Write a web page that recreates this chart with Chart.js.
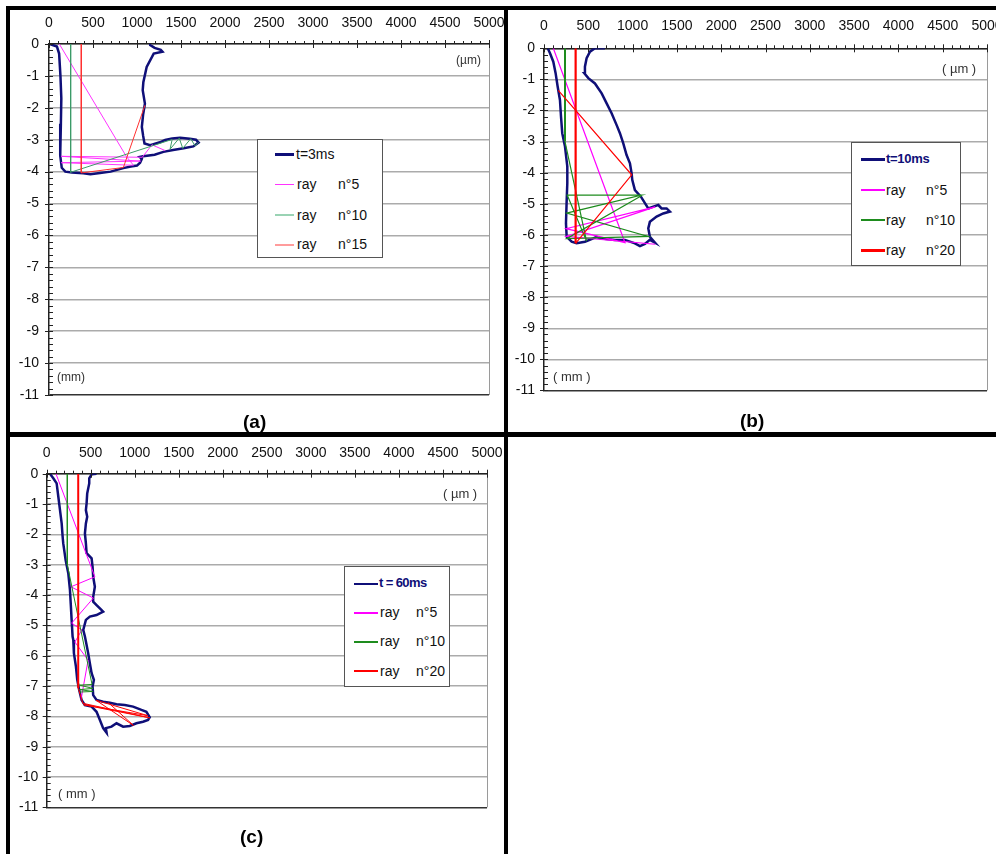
<!DOCTYPE html>
<html>
<head>
<meta charset="utf-8">
<script src="https://cdn.jsdelivr.net/npm/chart.js@4.4.1/dist/chart.umd.min.js"></script>
<style>
html, body { margin: 0; padding: 0; background: #fff; }
#page { position: relative; width: 996px; height: 854px; overflow: hidden; background: #fff;
        font-family: "Liberation Sans", Arial, sans-serif; }
.bar { position: absolute; background: #000; z-index: 5; }
.panel { position: absolute; }
.panel canvas { display: block; }
.unit { position: absolute; font-size: 12px; line-height: 12px; color: #333; white-space: pre; z-index: 3; }
.cap { position: absolute; font-size: 19px; line-height: 19px; font-weight: bold; color: #000; z-index: 3; }
.legend { position: absolute; box-sizing: border-box; border: 1px solid #555; background: #fff; z-index: 4; }
.legend span { position: absolute; font-size: 14px; line-height: 16px; color: #111; white-space: pre; }
</style>
</head>
<body>
<div id="page">
  <div class="panel" style="left:10px;top:10px"><canvas id="chartA" width="495" height="420"></canvas></div>
  <div class="panel" style="left:509px;top:10px"><canvas id="chartB" width="500" height="422"></canvas></div>
  <div class="panel" style="left:10px;top:437px"><canvas id="chartC" width="494" height="417"></canvas></div>

  <div class="bar" style="left:6px;top:6px;width:990px;height:4px"></div>
  <div class="bar" style="left:6px;top:6px;width:4px;height:848px"></div>
  <div class="bar" style="left:504px;top:6px;width:4px;height:848px"></div>
  <div class="bar" style="left:6px;top:432px;width:990px;height:5px"></div>

  <div class="unit" style="left:456px;top:54px">(µm)</div>
  <div class="unit" style="left:57px;top:371px">(mm)</div>
  <div class="unit" style="left:942px;top:63px;font-size:13px">( µm )</div>
  <div class="unit" style="left:553px;top:371px;font-size:13px">( mm )</div>
  <div class="unit" style="left:443px;top:488px;font-size:13px">( µm )</div>
  <div class="unit" style="left:58px;top:788px;font-size:13px">( mm )</div>

  <div class="cap" style="left:243px;top:412px">(a)</div>
  <div class="cap" style="left:740px;top:411px">(b)</div>
  <div class="cap" style="left:240px;top:827px">(c)</div>
</div>
<script>
const xTickValues = [0, 500, 1000, 1500, 2000, 2500, 3000, 3500, 4000, 4500, 5000];
const yTickValues = [0, -1, -2, -3, -4, -5, -6, -7, -8, -9, -10, -11];

// (a) t = 3 ms  -- x in µm, y in mm
const profileA = [[10,0],[90,-0.08],[115,-0.3],[130,-1.0],[140,-1.7],[135,-2.5],[125,-3.0],[130,-3.5],[145,-3.88],[185,-4.0],[260,-4.03],[390,-4.05],[470,-4.08],[580,-4.04],[700,-4.0],[845,-3.89],[930,-3.84],[1000,-3.81],[1035,-3.72],[1055,-3.6],[1030,-3.54],[1070,-3.52],[1200,-3.47],[1300,-3.38],[1410,-3.32],[1530,-3.27],[1640,-3.21],[1700,-3.09],[1670,-3.0],[1600,-2.97],[1490,-2.94],[1400,-2.96],[1320,-3.01],[1260,-3.08],[1150,-3.17],[1085,-3.12],[1070,-2.88],[1055,-2.6],[1070,-2.2],[1090,-1.87],[1065,-1.45],[1072,-1.2],[1110,-0.72],[1190,-0.3],[1290,-0.24],[1270,-0.18],[1200,-0.12],[1150,-0.03],[1150,0]];
const ray5A = [[117,0],[880,-3.53],[960,-3.8],[140,-3.72],[1040,-3.67],[140,-3.52],[1060,-3.55],[1170,-3.16],[1320,-3.34]];
const ray10A = [[246,0],[246,-4.02],[1400,-2.99],[1375,-3.3],[1480,-2.95],[1520,-3.27],[1610,-2.97],[1660,-3.19],[1700,-3.08]];
const ray15A = [[367,0],[367,-4.04],[845,-3.87],[1090,-1.92]];

// (b) t = 10 ms
const profileB = [[42,0],[68,-0.16],[105,-0.43],[131,-0.8],[154,-1.23],[180,-1.66],[192,-2.2],[206,-2.73],[237,-3.16],[263,-3.8],[263,-4.34],[256,-4.88],[248,-5.63],[256,-6.06],[312,-6.22],[368,-6.27],[462,-6.22],[556,-6.11],[594,-6.06],[632,-6.11],[801,-6.16],[914,-6.16],[1026,-6.27],[1083,-6.36],[1139,-6.29],[1195,-6.16],[1252,-6.25],[1195,-6.06],[1177,-5.79],[1195,-5.58],[1271,-5.41],[1346,-5.31],[1421,-5.25],[1384,-5.15],[1327,-5.15],[1290,-5.04],[1233,-5.09],[1177,-5.15],[1139,-4.98],[1094,-4.77],[1026,-4.56],[996,-4.23],[989,-4.02],[970,-3.7],[932,-3.43],[894,-3.05],[857,-2.73],[820,-2.47],[763,-2.09],[707,-1.77],[651,-1.45],[575,-1.13],[500,-0.96],[455,-0.8],[462,-0.59],[481,-0.32],[519,-0.11],[575,0],[688,0]];
const ray5B = [[105,0],[914,-6.25],[250,-5.8],[1255,-5.1],[256,-6.05],[1255,-6.3]];
const ray10B = [[237,0],[237,-3.0],[480,-6.2],[262,-4.72],[1100,-4.72],[256,-5.3],[1175,-6.05],[256,-6.12],[1100,-4.74]];
const ray20B = [[357,0],[357,-6.27],[990,-4.07],[161,-1.35]];

// (c) t = 60 ms
const profileC = [[37,0],[75,-0.15],[113,-0.32],[132,-0.76],[151,-1.2],[170,-1.64],[181,-2.08],[188,-2.3],[215,-2.85],[245,-3.28],[264,-3.83],[275,-4.39],[283,-4.82],[294,-5.37],[302,-5.48],[309,-5.92],[332,-6.36],[347,-6.8],[369,-7.13],[396,-7.46],[434,-7.63],[510,-7.68],[566,-7.85],[604,-8.12],[641,-8.39],[680,-8.54],[672,-8.39],[736,-8.34],[793,-8.23],[868,-8.34],[943,-8.32],[1019,-8.23],[1094,-8.18],[1151,-8.12],[1170,-8.03],[1132,-7.85],[1076,-7.79],[981,-7.68],[887,-7.63],[793,-7.6],[717,-7.55],[641,-7.52],[566,-7.46],[528,-7.3],[521,-7.02],[536,-6.8],[510,-6.58],[490,-6.25],[471,-5.92],[453,-5.65],[434,-5.37],[415,-5.15],[445,-4.82],[490,-4.71],[566,-4.66],[641,-4.55],[604,-4.44],[566,-4.33],[528,-4.22],[528,-4.06],[547,-3.73],[528,-3.4],[521,-3.07],[510,-2.79],[453,-2.62],[445,-2.3],[434,-1.97],[445,-1.64],[460,-1.42],[445,-1.2],[453,-0.98],[460,-0.65],[483,-0.32],[483,-0.15],[510,-0.02],[566,0]];
const ray5C = [[105,0],[547,-3.4],[275,-3.73],[530,-4.1],[283,-4.93],[400,-5.15],[320,-5.55],[470,-6.15],[390,-7.45]];
const ray10C = [[234,0],[234,-3.0],[515,-6.95],[370,-6.97],[525,-7.08],[372,-7.12],[527,-7.18],[375,-7.2]];
const ray20C = [[358,0],[358,-7.07],[410,-7.57],[1170,-8.05],[420,-7.62],[1150,-7.98],[560,-7.47],[985,-8.3],[700,-7.55]];

const legendTimes = ['t=3ms', 't=10ms', 't = 60ms'];
const rayLabels = ['ray', 'ray', 'ray'];
const rayNumbersA = ['n°5', 'n°10', 'n°15'];
const rayNumbersBC = ['n°5', 'n°10', 'n°20'];

const NAVY = '#0f0f78';
const FONT = '"Liberation Sans", Arial, sans-serif';

const pts = arr => arr.map(p => ({ x: p[0], y: p[1] }));

function line(data, color, width, order, firstWidth) {
  return {
    data: pts(data), showLine: true, borderColor: color, borderWidth: width,
    pointRadius: 0, fill: false, order: order,
    segment: firstWidth ? { borderWidth: c => c.p0DataIndex === 0 ? firstWidth : width } : undefined
  };
}

const tickMarks = {
  id: 'tickMarks',
  afterDraw(chart) {
    const { ctx, chartArea: a, scales: { x, y } } = chart;
    ctx.save();
    ctx.strokeStyle = '#9a9a9a';
    ctx.lineWidth = 1;
    ctx.beginPath();
    ctx.moveTo(Math.round(a.right) + 0.5, a.top);
    ctx.lineTo(Math.round(a.right) + 0.5, a.bottom);
    ctx.stroke();
    ctx.strokeStyle = '#222';
    ctx.beginPath();
    for (let i = 0; i <= 50; i++) {
      const px = Math.round(x.getPixelForValue(i * 100)) + 0.5;
      const major = i % 5 === 0;
      ctx.moveTo(px, a.top - (major ? 4 : 3));
      ctx.lineTo(px, a.top + (major ? 4 : 0));
    }
    for (let i = 0; i <= 55; i++) {
      const py = Math.round(y.getPixelForValue(-i * 0.2)) + 0.5;
      const major = i % 5 === 0;
      ctx.moveTo(a.left - (major ? 4 : 0), py);
      ctx.lineTo(a.left + 4, py);
    }
    ctx.stroke();
    ctx.restore();
  }
};

function makeChart(id, datasets, box) {
  return new Chart(document.getElementById(id), {
    type: 'scatter',
    data: { datasets },
    options: {
      responsive: false,
      animation: false,
      layout: { padding: { left: 0, top: 0, right: box.r, bottom: box.b } },
      plugins: { legend: { display: false }, tooltip: { enabled: false } },
      scales: {
        x: {
          type: 'linear', position: 'top', min: 0, max: 5000,
          afterBuildTicks: s => { s.ticks = xTickValues.map(v => ({ value: v })); },
          afterFit: s => { s.height = box.t; s.paddingLeft = 0; s.paddingRight = 0; },
          grid: { drawOnChartArea: false, drawTicks: false },
          border: { color: '#222', width: 1.5 },
          ticks: { padding: box.xp, color: '#111', autoSkip: false, maxRotation: 0,
                   font: { size: 14, family: FONT }, callback: v => String(v) }
        },
        y: {
          type: 'linear', min: -11, max: 0,
          afterBuildTicks: s => { s.ticks = yTickValues.map(v => ({ value: v })); },
          afterFit: s => { s.width = box.l; s.paddingTop = 0; s.paddingBottom = 0; },
          grid: { drawTicks: false, color: c => (c.tick && c.tick.value === -11) ? '#333' : '#ababab', lineWidth: 1.4 },
          border: { color: '#222', width: 1.5 },
          ticks: { padding: box.yp, color: '#111', font: { size: 14, family: FONT }, callback: v => String(v) }
        }
      }
    },
    plugins: [tickMarks]
  });
}

makeChart('chartA', [
  line(profileA, NAVY, 2.5, 10),
  line(ray5A, '#ff33ff', 1, 3),
  line(ray10A, '#3d9b68', 1, 2),
  line(ray15A, '#ff3030', 1, 1)
], { l: 39, t: 34, r: 16, b: 35, xp: 12, yp: 10 });

makeChart('chartB', [
  line(profileB, NAVY, 2.5, 10),
  line(ray5B, '#ff00ff', 1.2, 3),
  line(ray10B, '#1e8c1e', 1.2, 2, 2),
  line(ray20B, '#ff0000', 1.2, 1, 2.2)
], { l: 35, t: 38.3, r: 22, b: 41.6, xp: 14, yp: 9 });

makeChart('chartC', [
  line(profileC, NAVY, 2.5, 10),
  line(ray5C, '#ff00ff', 1, 3),
  line(ray10C, '#1e8c1e', 1, 2),
  line(ray20C, '#ff0000', 1, 1, 2)
], { l: 36.7, t: 36.7, r: 17, b: 46.7, xp: 12, yp: 8.5 });

// legends
function buildLegend(box, time, timeStyle, numbers, colors, widths) {
  const page = document.getElementById('page');
  const el = document.createElement('div');
  el.className = 'legend';
  Object.assign(el.style, { left: box.x + 'px', top: box.y + 'px', width: box.w + 'px', height: box.h + 'px' });
  const texts = [time].concat(rayLabels);
  texts.forEach((txt, i) => {
    const cy = box.rows[i];
    const sw = document.createElement('div');
    Object.assign(sw.style, { position: 'absolute', left: box.sx + 'px', width: box.sw + 'px',
      top: (cy - widths[i] / 2) + 'px', height: widths[i] + 'px', background: colors[i] });
    el.appendChild(sw);
    const t = document.createElement('span');
    t.textContent = txt;
    t.style.left = (i === 0 ? box.tx0 : box.tx) + 'px';
    t.style.top = (cy - 8.5) + 'px';
    if (i === 0) Object.assign(t.style, timeStyle);
    el.appendChild(t);
    if (i > 0) {
      const n = document.createElement('span');
      n.textContent = numbers[i - 1];
      n.style.left = box.nx + 'px';
      n.style.top = (cy - 8.5) + 'px';
      el.appendChild(n);
    }
  });
  page.appendChild(el);
}

buildLegend({ x: 257, y: 139, w: 126, h: 119, rows: [14.5, 44.5, 75, 104.5], sx: 17, sw: 19, tx0: 38, tx: 39, nx: 80 },
  legendTimes[0], {}, rayNumbersA,
  [NAVY, '#ff33ff', '#9ad3b4', '#ff9c9c'], [3, 1.5, 2, 2]);

buildLegend({ x: 851, y: 142, w: 110, h: 124, rows: [16.3, 47.3, 77.3, 107.3], sx: 9, sw: 24, tx0: 34, tx: 34, nx: 74 },
  legendTimes[1], { fontWeight: 'bold', color: NAVY, fontSize: '13px', letterSpacing: '-0.3px' }, rayNumbersBC,
  [NAVY, '#ff00ff', '#1e8c1e', '#ff0000'], [2.5, 2, 2, 2.5]);

buildLegend({ x: 344, y: 566, w: 106, h: 121, rows: [16.7, 45.7, 74.7, 104], sx: 9, sw: 24, tx0: 34, tx: 35, nx: 71 },
  legendTimes[2], { fontWeight: 'bold', color: NAVY, fontSize: '13px', letterSpacing: '-0.6px' }, rayNumbersBC,
  [NAVY, '#ff00ff', '#1e8c1e', '#ff0000'], [2, 2, 2, 2]);
</script>
</body>
</html>
